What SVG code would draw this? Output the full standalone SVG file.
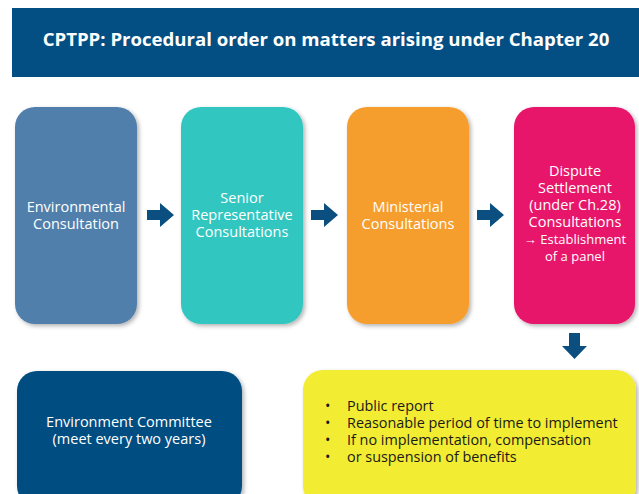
<svg xmlns="http://www.w3.org/2000/svg" width="639" height="494" viewBox="0 0 639 494">
<defs>
<filter id="sh" x="-10%" y="-10%" width="125%" height="125%">
<feDropShadow dx="2" dy="2" stdDeviation="2" flood-color="#000" flood-opacity="0.3"/>
</filter>
<path id="arr" d="M0,7 H13 V0 L27,12 L13,24 V17 H0 Z"/>
</defs>
<style>
text{font-family:"Open Sans","Noto Sans","Liberation Sans",sans-serif;}
.t{fill:#ffffff;font-size:14.5px;text-anchor:middle;}
.s{font-size:13px;}
.y{fill:#1a1a1a;font-size:14.4px;}
.a{fill:#0b4f80;}
</style>
<rect x="0" y="0" width="639" height="494" fill="#ffffff"/>
<g id="title">
<rect x="12" y="8" width="627" height="69" fill="#034f83"/>
<text x="326" y="46" fill="#ffffff" font-size="18.6" font-weight="bold" text-anchor="middle">CPTPP: Procedural order on matters arising under Chapter 20</text>
</g>
<g id="n1">
<rect x="15" y="107" width="122" height="217" rx="20" fill="#517fab" filter="url(#sh)"/>
<text class="t" x="76" y="212">Environmental</text>
<text class="t" x="76" y="229">Consultation</text>
</g>
<g id="n2">
<rect x="181" y="107" width="122" height="217" rx="20" fill="#33c6c0" filter="url(#sh)"/>
<text class="t" x="242" y="203">Senior</text>
<text class="t" x="242" y="220">Representative</text>
<text class="t" x="242" y="237">Consultations</text>
</g>
<g id="n3">
<rect x="347" y="107" width="122" height="217" rx="20" fill="#f59e2e" filter="url(#sh)"/>
<text class="t" x="408" y="212">Ministerial</text>
<text class="t" x="408" y="229">Consultations</text>
</g>
<g id="n4">
<rect x="514" y="107" width="121" height="217" rx="20" fill="#e8136a" filter="url(#sh)"/>
<text class="t" x="575" y="176">Dispute</text>
<text class="t" x="575" y="193">Settlement</text>
<text class="t" x="575" y="210">(under Ch.28)</text>
<text class="t" x="575" y="227">Consultations</text>
<text class="t s" x="575" y="244">→ Establishment</text>
<text class="t s" x="575" y="261">of a panel</text>
</g>
<g id="n5">
<rect x="17" y="371" width="225" height="135" rx="20" fill="#034e82" filter="url(#sh)"/>
<text class="t" x="129" y="427">Environment Committee</text>
<text class="t" x="129" y="444">(meet every two years)</text>
</g>
<g id="n6">
<rect x="303" y="370" width="333" height="136" rx="20" fill="#f2ec30" filter="url(#sh)"/>
<text class="y" x="325" y="411">•</text><text class="y" x="347" y="411">Public report</text>
<text class="y" x="325" y="428">•</text><text class="y" x="347" y="428">Reasonable period of time to implement</text>
<text class="y" x="325" y="445">•</text><text class="y" x="347" y="445">If no implementation, compensation</text>
<text class="y" x="325" y="462">•</text><text class="y" x="347" y="462">or suspension of benefits</text>
</g>
<g id="connectors">
<use href="#arr" class="a" x="147" y="203"/>
<use href="#arr" class="a" x="311" y="203"/>
<use href="#arr" class="a" x="477" y="203"/>
<path class="a" d="M569,333 H580 V346 H587 L574.5,359 L562,346 H569 Z"/>
</g>
</svg>
